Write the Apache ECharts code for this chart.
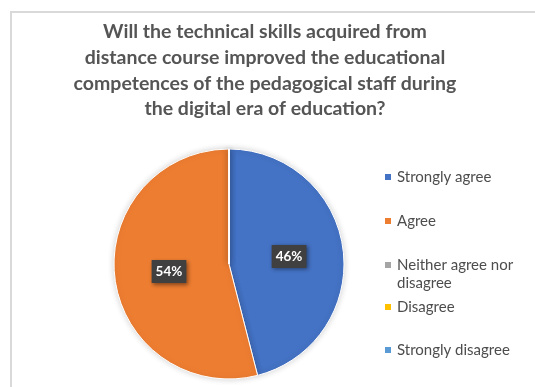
<!DOCTYPE html>
<html>
<head>
<meta charset="utf-8">
<script src="https://cdn.jsdelivr.net/npm/echarts@6/dist/echarts.min.js"></script>
<style>
  html, body { margin: 0; padding: 0; background: #ffffff; }
  #chart { width: 535px; height: 387px; }
</style>
</head>
<body>
<div id="chart"></div>
<script>
// Survey responses and their share of the total (percent)
const categories = ['Strongly agree', 'Agree', 'Neither agree nor disagree', 'Disagree', 'Strongly disagree'];
const shares = [46, 54, 0, 0, 0];
const colors = ['#4472C4', '#ED7D31', '#A5A5A5', '#FFC000', '#5B9BD5'];
const titleText = 'Will the technical skills acquired from\ndistance course improved the educational\ncompetences of the pedagogical staff during\nthe digital era of education?';

// Vertical centre of each legend row's marker
const legendRows = [177, 221, 265, 307, 350];

const FONT = 'Lato, "Open Sans", sans-serif';

const chart = echarts.init(document.getElementById('chart'), null, { renderer: 'canvas' });

// One legend block per entry so the rows can sit at their own heights.
// The long entry wraps onto two lines; a blank first line keeps its
// marker level with the first line of text.
const legends = categories.map((name, i) => {
  const wrapped = name === 'Neither agree nor disagree';
  const lh = 18;
  return {
    orient: 'vertical',
    left: 383,
    top: wrapped ? legendRows[i] - lh * 1.5 : legendRows[i] - lh / 2,
    padding: 0,
    itemWidth: 8,
    itemHeight: 8,
    itemGap: 0,
    icon: 'rect',
    selectedMode: false,
    data: [name],
    formatter: n => (n === 'Neither agree nor disagree' ? ' \nNeither agree nor\ndisagree' : n),
    textStyle: {
      fontFamily: FONT,
      fontSize: 15,
      color: '#4d4d4d',
      lineHeight: lh
    }
  };
});

chart.setOption({
  animation: false,
  backgroundColor: '#ffffff',
  color: colors,
  title: {
    text: titleText,
    left: 260,
    textAlign: 'center',
    top: 14,
    textStyle: {
      fontFamily: FONT,
      fontWeight: 'bold',
      fontSize: 19.5,
      lineHeight: 25.7,
      color: '#555555'
    }
  },
  graphic: [{
    type: 'rect',
    shape: { x: 11, y: 12, width: 540, height: 390 },
    style: { fill: 'none', stroke: '#d9d9d9', lineWidth: 2 },
    silent: true,
    z: -10
  }],
  legend: legends,
  series: [{
    type: 'pie',
    center: [229, 264],
    radius: 115,
    startAngle: 90,
    clockwise: true,
    avoidLabelOverlap: false,
    itemStyle: {
      borderColor: '#ffffff',
      borderWidth: 1,
      shadowBlur: 6,
      shadowColor: 'rgba(0,0,0,0.18)'
    },
    label: {
      show: true,
      position: 'inside',
      formatter: '{d}%',
      fontFamily: FONT,
      fontWeight: 'bold',
      fontSize: 13.5,
      color: '#ffffff',
      backgroundColor: '#404040',
      padding: [5, 4, 4, 4],
      shadowBlur: 4,
      shadowOffsetX: 1.5,
      shadowOffsetY: 1.5,
      shadowColor: 'rgba(0,0,0,0.45)'
    },
    labelLine: { show: false },
    emphasis: { disabled: true },
    data: categories.map((name, i) => ({
      name: name,
      value: shares[i],
      label: { show: shares[i] > 0 }
    }))
  }]
});
</script>
</body>
</html>
